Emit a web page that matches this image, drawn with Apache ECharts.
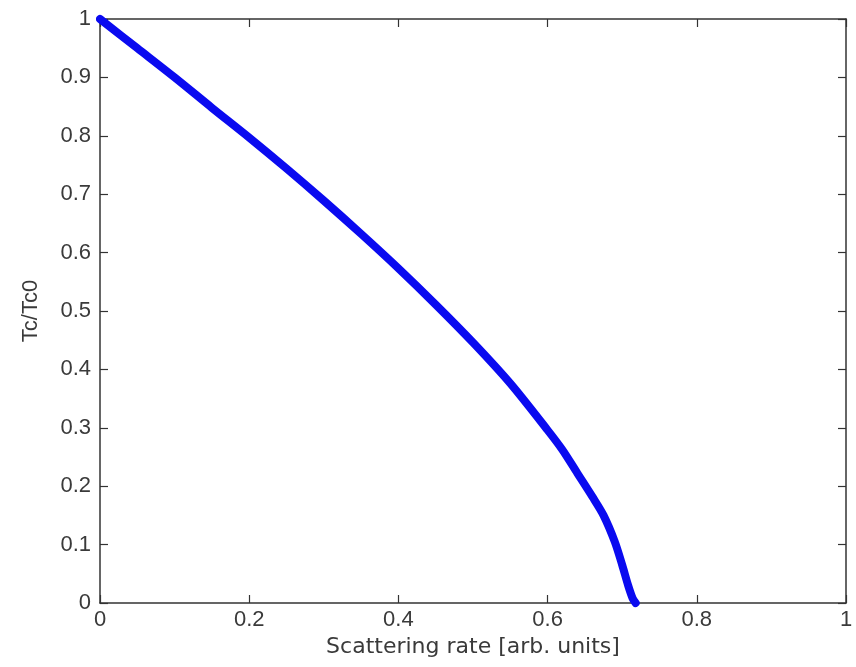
<!DOCTYPE html>
<html>
<head>
<meta charset="utf-8">
<script src="https://cdn.jsdelivr.net/npm/echarts@6/dist/echarts.min.js"></script>
<style>
  html, body { margin: 0; padding: 0; background: #fff; }
  #chart { width: 856px; height: 667px; }
</style>
</head>
<body>
<div id="chart"></div>
<script>
// Normalised critical temperature versus scattering rate
const scatteringRate = [0, 0.05, 0.1, 0.15, 0.2, 0.25, 0.3, 0.35, 0.4, 0.45, 0.5, 0.55, 0.6, 0.62, 0.64, 0.66, 0.675, 0.69, 0.70, 0.708, 0.714, 0.718];
const tcRatio       = [1, 0.95, 0.90, 0.848, 0.797, 0.744, 0.689, 0.632, 0.573, 0.511, 0.446, 0.376, 0.296, 0.262, 0.222, 0.182, 0.15, 0.105, 0.065, 0.03, 0.008, 0];

const xLabel = 'Scattering rate [arb. units]';
const yLabel = 'Tc/Tc0';

const axisColor = '#333';
const textColor = '#3a3a3a';

const chart = echarts.init(document.getElementById('chart'), null, { renderer: 'canvas' });

const boxAxis = (extra) => Object.assign({
  type: 'value',
  min: 0,
  max: 1,
  axisLine: { show: true, onZero: false, lineStyle: { color: axisColor, width: 1.5 } },
  axisTick: { show: true, inside: true, length: 8, lineStyle: { color: axisColor, width: 1.2 } },
  splitLine: { show: false },
  axisLabel: { show: false }
}, extra);

chart.setOption({
  animation: false,
  backgroundColor: '#fff',
  grid: { left: 100, right: 10, top: 19, bottom: 64, containLabel: false },
  xAxis: [
    boxAxis({
      position: 'bottom',
      interval: 0.2,
      name: xLabel,
      nameLocation: 'middle',
      nameGap: 30,
      nameTextStyle: { color: textColor, fontFamily: 'DejaVu Sans', fontSize: 22 },
      axisLabel: { show: true, color: textColor, fontFamily: 'Liberation Sans', fontSize: 22, margin: 6 }
    }),
    boxAxis({ position: 'top', interval: 0.2 })
  ],
  yAxis: [
    boxAxis({
      position: 'left',
      interval: 0.1,
      name: yLabel,
      nameLocation: 'middle',
      nameGap: 58,
      nameRotate: 90,
      nameTextStyle: { color: textColor, fontFamily: 'Liberation Sans', fontSize: 22 },
      axisLabel: { show: true, color: textColor, fontFamily: 'Liberation Sans', fontSize: 22, margin: 9 }
    }),
    boxAxis({ position: 'right', interval: 0.1 })
  ],
  series: [{
    type: 'line',
    xAxisIndex: 0,
    yAxisIndex: 0,
    data: scatteringRate.map((x, i) => [x, tcRatio[i]]),
    showSymbol: false,
    smooth: 0.3,
    clip: false,
    lineStyle: { color: '#0a0af0', width: 8, cap: 'round', join: 'round' }
  }]
});
</script>
</body>
</html>
